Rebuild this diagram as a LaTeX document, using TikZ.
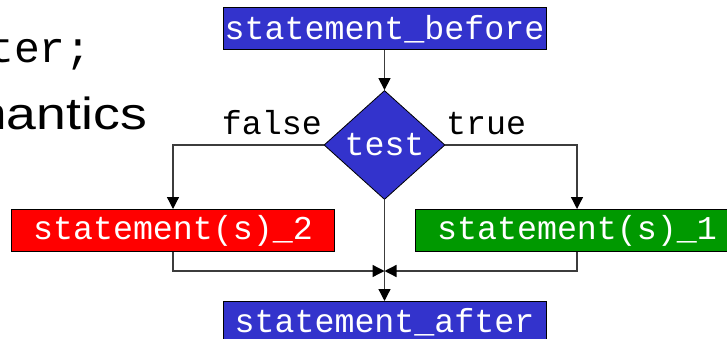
\documentclass[tikz,border=0pt]{standalone}
\usepackage{fontspec}
\setmainfont{Liberation Sans}
\newfontfamily\codefont{Liberation Mono}
\newfontfamily\headfont[FakeStretch=1.19]{Liberation Sans}
\usetikzlibrary{shapes.geometric,arrows.meta}
\definecolor{boxblue}{RGB}{51,51,204}
\definecolor{boxred}{RGB}{255,0,0}
\definecolor{boxgreen}{RGB}{0,153,0}
\definecolor{linegray}{RGB}{60,60,60}
\tikzset{
  codetext/.style={font=\codefont\fontsize{33.3}{40}\selectfont},
  stmt/.style={codetext, draw=black, line width=1pt, text=white,
    minimum width=323, minimum height=42, inner sep=0pt},
  decision/.style={codetext, diamond, draw=black, line width=0.8pt,
    fill=boxblue, text=white, minimum width=121, minimum height=109, inner sep=0pt},
  branchlabel/.style={codetext, text=black, inner sep=0pt},
  flow/.style={draw=linegray, line width=1.3pt},
  arrowflow/.style={flow, -{Triangle[length=12pt,width=12pt,color=black]}},
}
\begin{document}
\begin{tikzpicture}[x=1pt,y=-1pt]
  \useasboundingbox (0,0) rectangle (727,339);
  \clip (0,0) rectangle (727,339);

  % slide text at the left
  \node[anchor=base west, inner sep=0pt, font=\codefont\fontsize{43}{50}\selectfont] (codeline) at (-12,63) {ter;};
  \node[anchor=base east, inner sep=0pt, font=\headfont\fontsize{45}{54}\selectfont] (heading) at (147,130) {mantics};

  % flowchart nodes
  \node[stmt, fill=boxblue] (before) at (384.5,29) {statement\_before};
  \node[decision] (test) at (384.5,145) {test};
  \node[stmt, fill=boxred] (s2) at (173,230.5) {statement(s)\_2};
  \node[stmt, fill=boxgreen] (s1) at (577,230.5) {statement(s)\_1};
  \node[stmt, fill=boxblue, anchor=north] (after) at (384.5,301) {statement\_after};
  \coordinate (join) at (384.5,271);

  % branch labels
  \node[branchlabel, anchor=base east] (falselbl) at (322,135) {false};
  \node[branchlabel, anchor=base west] (truelbl) at (446,135) {true};

  % connectors
  \draw[arrowflow] (before) -- (test.north);
  \draw[arrowflow] (test.west) -| (s2.north);
  \draw[arrowflow] (test.east) -| (s1.north);
  \draw[arrowflow] (test.south) -- (after.north);
  \draw[arrowflow] (s2.south) |- (join);
  \draw[arrowflow] (s1.south) |- (join);
\end{tikzpicture}
\end{document}
